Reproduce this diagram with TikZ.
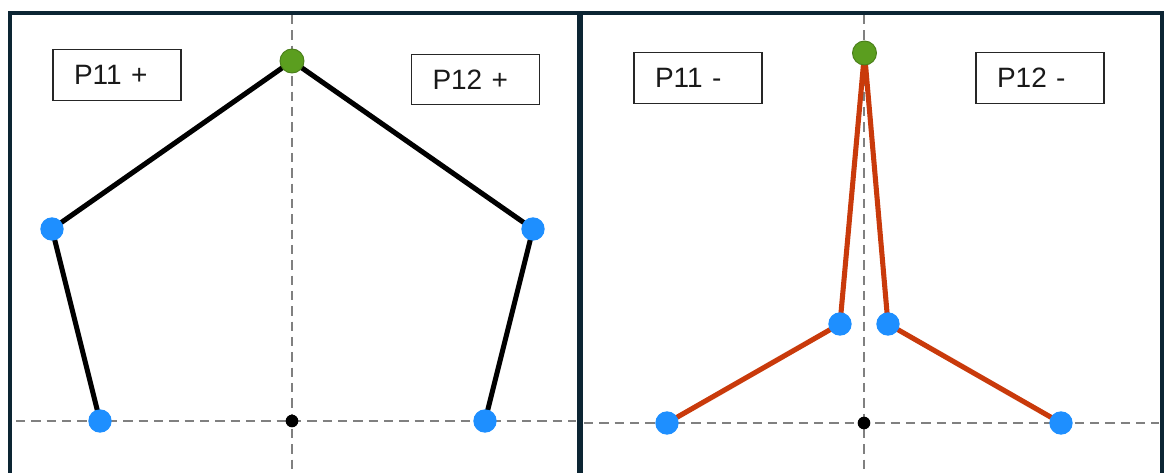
\documentclass[tikz,border=0pt]{standalone}
\usepackage{fontspec}
\setmainfont{Liberation Sans}
\pgfdeclarelayer{backdrop}
\pgfdeclarelayer{background}
\pgfsetlayers{backdrop,background,main}
\definecolor{frame}{HTML}{0C2533}
\definecolor{linkred}{HTML}{C93A0B}
\definecolor{jointblue}{HTML}{1E8FFF}
\definecolor{pivotgreen}{HTML}{5B9E1F}
\definecolor{axisgray}{HTML}{808080}
\tikzset{
  x=0.75pt, y=-0.75pt,
  joint/.style={circle, fill=jointblue, inner sep=0pt, minimum size=17.5pt},
  pivot/.style={circle, fill=pivotgreen, draw=pivotgreen!80!black, line width=0.7pt, inner sep=0pt, minimum size=18pt},
  origin/.style={circle, fill=black, inner sep=0pt, minimum size=9.5pt},
  label/.style={draw=black!85, line width=0.9pt, text width=64.5pt, inner xsep=15.75pt, inner ysep=0pt,
    align=left, minimum height=38pt, font=\fontsize{21}{25}\selectfont, text=black!90},
  axis/.style={axisgray, line width=1.5pt, dash pattern=on 7pt off 4.5pt},
  blacklink/.style={black, line width=3.8pt},
  redlink/.style={linkred, line width=3.8pt},
  framebar/.style={frame, line width=3pt}
}
\begin{document}
\begin{tikzpicture}
\begin{pgfonlayer}{backdrop}
  \fill[white] (0,0) rectangle (1165,473);
\end{pgfonlayer}
\useasboundingbox (0,0) rectangle (1165,473);

% left panel: pentagon linkage
\node[pivot]  (gl)  at (292,61)  {};
\node[joint]  (l1)  at (52,229)  {};
\node[joint]  (l2)  at (100,421) {};
\node[joint]  (l3)  at (533,229) {};
\node[joint]  (l4)  at (485,421) {};
\node[origin] (ol)  at (292,421) {};
\node[label]  (p11p) at (117,75) {P11 +};
\node[label]  (p12p) at (475.5,79.5) {P12 +};

% right panel: folded linkage
\node[pivot]  (gr)  at (864.5,53)  {};
\node[joint]  (r1)  at (840,324) {};
\node[joint]  (r2)  at (888,324) {};
\node[joint]  (r3)  at (667,423) {};
\node[joint]  (r4)  at (1061,423) {};
\node[origin] (orr) at (864,423) {};
\node[label]  (p11m) at (698,78) {P11 -};
\node[label]  (p12m) at (1040,78) {P12 -};

\begin{pgfonlayer}{background}
  % axes
  \draw[axis] (292,15) -- (ol.center) -- (292,473);
  \draw[axis] (16,421) -- (ol.center) -- (576,421);
  \draw[axis] (864,15) -- (orr.center) -- (864,473);
  \draw[axis] (584,423) -- (orr.center) -- (1159,423);
  % links
  \draw[blacklink] (l2.center) -- (l1.center) -- (gl.center) -- (l3.center) -- (l4.center);
  \draw[redlink] (r3.center) -- (r1.center) -- (gr.center) -- (r2.center) -- (r4.center);
\end{pgfonlayer}

% panel frames
\draw[framebar] (9.5,473) -- (9.5,13) -- (1161.5,13) -- (1161.5,473);
\draw[frame, line width=5.2pt] (580,13) -- (580,473);
\end{tikzpicture}
\end{document}
